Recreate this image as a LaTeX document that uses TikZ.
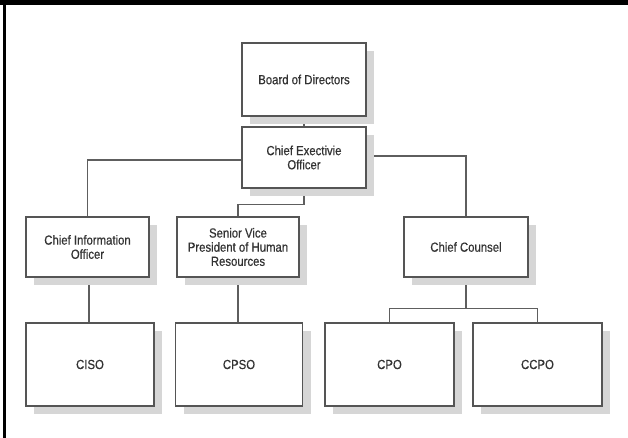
\documentclass[tikz,border=0pt]{standalone}
\usepackage{fontspec}
\setmainfont[FakeStretch=0.86,FakeBold=0.5]{Liberation Sans}
\usetikzlibrary{shadows,backgrounds}
\definecolor{boxline}{HTML}{555555}
\definecolor{conline}{HTML}{5E5E5E}
\definecolor{txt}{HTML}{333333}
\definecolor{shade}{HTML}{D6D6D6}
\tikzset{
  orgbox/.style={draw=boxline, line width=1.1pt, fill=white, align=center,
    text=txt, font=\fontsize{9.9}{10.6}\selectfont, inner sep=1pt,
    drop shadow={shadow xshift=6pt, shadow yshift=-6pt, fill=shade, opacity=1}},
  conn/.style={draw=conline, line width=1pt}
}
\begin{document}
\begin{tikzpicture}[x=0.75pt,y=-0.75pt]
\useasboundingbox (0,0) rectangle (628,438);
\fill[black] (0,0) rectangle (628,5.5);
\fill[black] (2.8,0) rectangle (5.5,438);

\node[orgbox, minimum width=93pt, minimum height=54.75pt] (board) at (304,79.5) {Board of Directors};
\node[orgbox, minimum width=93pt, minimum height=45.75pt] (ceo) at (304,157.5) {Chief Exectivie\\Officer};
\node[orgbox, minimum width=92.25pt, minimum height=45pt] (cio) at (87.5,247) {Chief Information\\Officer};
\node[orgbox, minimum width=91.5pt, minimum height=45pt] (svp) at (238,247) {Senior Vice\\President of Human\\Resources};
\node[orgbox, minimum width=93pt, minimum height=45pt] (cc) at (466,247) {Chief Counsel};
\node[orgbox, minimum width=96pt, minimum height=62.25pt] (ciso) at (90,364.5) {CISO};
\node[orgbox, minimum width=95.25pt, minimum height=62.25pt] (cpso) at (239,364.5) {CPSO};
\node[orgbox, minimum width=96.75pt, minimum height=62.25pt] (cpo) at (389.5,364.5) {CPO};
\node[orgbox, minimum width=96.75pt, minimum height=62.25pt] (ccpo) at (537.5,364.5) {CCPO};

\begin{scope}[on background layer]
\draw[conn] (board.south) -- (ceo.north);
\draw[conn] ([yshift=-2pt]ceo.west) -| (cio.north);
\draw[conn] ([yshift=1pt]ceo.east) -| (cc.north);
\draw[conn] (ceo.south) -- ++(0,16) -| (svp.north);
\draw[conn] (cio.south -| 89,0) -- (ciso.north -| 89,0);
\draw[conn] (svp.south) -- (svp.south |- cpso.north);
\draw[conn] (cc.south) -- ++(0,31) -| (cpo.north);
\draw[conn] (cc.south) -- ++(0,31) -| (ccpo.north);
\end{scope}
\end{tikzpicture}
\end{document}
